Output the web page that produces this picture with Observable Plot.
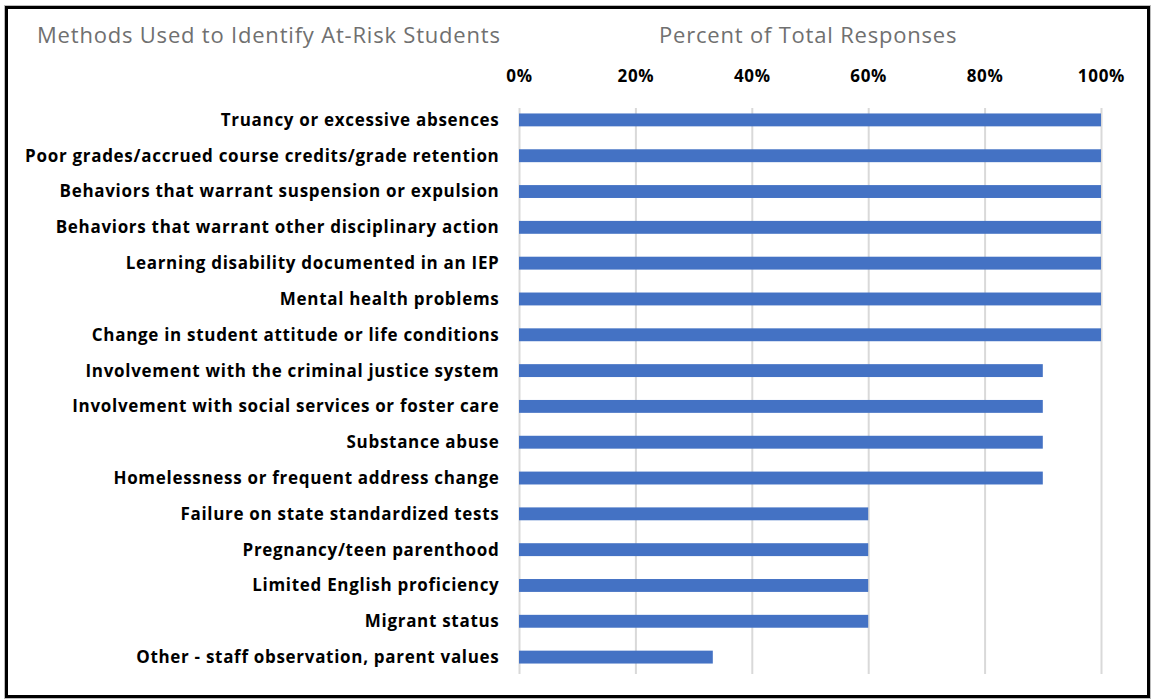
<!DOCTYPE html>
<html>
<head>
<meta charset="utf-8">
<script src="https://cdn.jsdelivr.net/npm/d3@7"></script>
<script src="https://cdn.jsdelivr.net/npm/@observablehq/plot@0.6"></script>
<style>
  html, body { margin: 0; padding: 0; background: #fff; }
  #wrap { position: relative; width: 1152px; height: 700px; overflow: hidden; background: #fff; }
  #frame { position: absolute; left: 5px; top: 6px; width: 1139px; height: 686px; border: 3px solid #000; outline: 1px solid #bbb; box-sizing: content-box; }
  .hdr { position: absolute; font-family: "Open Sans", Lato, sans-serif; color: #707070; font-size: 22px; letter-spacing: 0.8px; white-space: nowrap; }
  #chart { position: absolute; left: 0; top: 0; }
  #chart svg text { letter-spacing: 0.7px; }
</style>
</head>
<body>
<div id="wrap">
  <div id="frame"></div>
  <div id="chart"></div>
  <div class="hdr" id="t1" style="left:37px; top:19px;">Methods Used to Identify At-Risk Students</div>
  <div class="hdr" id="t2" style="left:659px; top:19px;">Percent of Total Responses</div>
</div>
<script>
const categories = [
  "Truancy or excessive absences",
  "Poor grades/accrued course credits/grade retention",
  "Behaviors that warrant suspension or expulsion",
  "Behaviors that warrant other disciplinary action",
  "Learning disability documented in an IEP",
  "Mental health problems",
  "Change in student attitude or life conditions",
  "Involvement with the criminal justice system",
  "Involvement with social services or foster care",
  "Substance abuse",
  "Homelessness or frequent address change",
  "Failure on state standardized tests",
  "Pregnancy/teen parenthood",
  "Limited English proficiency",
  "Migrant status",
  "Other - staff observation, parent values"
];
const values = [1, 1, 1, 1, 1, 1, 1, 0.9, 0.9, 0.9, 0.9, 0.6, 0.6, 0.6, 0.6, 0.333];
const xTicks = [0, 0.2, 0.4, 0.6, 0.8, 1.0];

const data = categories.map((c, i) => ({category: c, value: values[i]}));

const chart = Plot.plot({
  width: 1152,
  height: 700,
  marginLeft: 519,
  marginRight: 51,
  marginTop: 102,
  marginBottom: 25,
  style: {fontFamily: "'Open Sans', Lato, sans-serif", fontSize: "16px", fontWeight: "bold", color: "#000", background: "transparent"},
  x: {domain: [0, 1], ticks: xTicks, axis: null},
  y: {domain: categories, paddingInner: 0.64, paddingOuter: 0.32, round: false, axis: null},
  marks: [
    Plot.ruleX(xTicks, {stroke: "#d9d9d9", strokeWidth: 2, insetTop: 6, insetBottom: 1}),
    Plot.barX(data, {x: "value", y: "category", fill: "#4472C4"}),
    Plot.axisX({anchor: "top", ticks: xTicks, tickFormat: d => Math.round(d * 100) + "%", tickSize: 0, tickPadding: 21, fontSize: 17, fontWeight: "bold", label: null}),
    Plot.axisY({anchor: "left", tickSize: 0, tickPadding: 20, fontSize: 17, fontWeight: "bold", label: null})
  ]
});
document.getElementById("chart").appendChild(chart);
</script>
</body>
</html>
